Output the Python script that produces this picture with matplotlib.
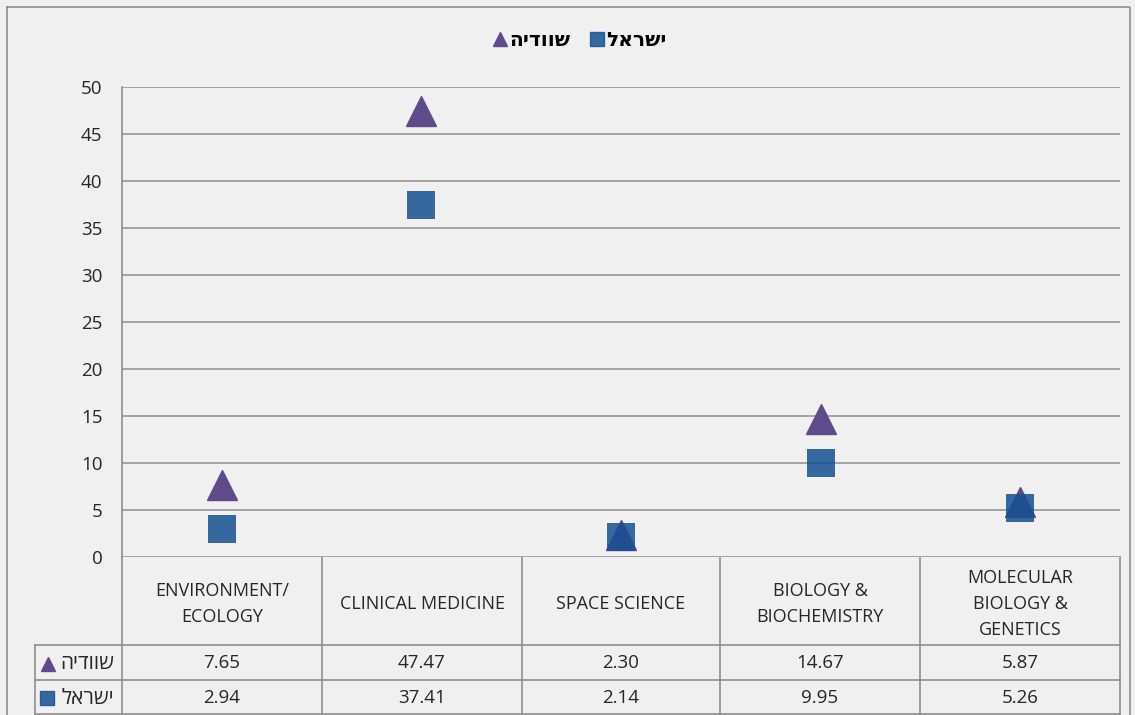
import matplotlib
matplotlib.use("Agg")
import matplotlib.pyplot as plt
from matplotlib.lines import Line2D

plt.rcParams['font.family'] = ['Open Sans', 'DejaVu Sans']

# data
categories = ['ENVIRONMENT/\nECOLOGY', 'CLINICAL MEDICINE', 'SPACE SCIENCE',
              'BIOLOGY &\nBIOCHEMISTRY', 'MOLECULAR\nBIOLOGY &\nGENETICS']
sweden = [7.65, 47.47, 2.30, 14.67, 5.87]
israel = [2.94, 37.41, 2.14, 9.95, 5.26]
sweden_name = 'שוודיה'
israel_name = 'ישראל'
yticks = [0, 5, 10, 15, 20, 25, 30, 35, 40, 45, 50]

# hebrew is drawn left-to-right by matplotlib, so reverse for display
def rtl(s):
    return s[::-1]

bg = '#f0f0f0'
c_tri = '#5f4a8b'
c_sq = '#145091'
line_c = '#8e8e8e'
txt_c = '#262626'

W, H = 1135, 715
fig = plt.figure(figsize=(W / 100, H / 100), dpi=100)
fig.patch.set_facecolor(bg)

# overlay axes in pixel coords for border and table
ov = fig.add_axes([0, 0, 1, 1], zorder=0)
ov.set_xlim(0, W)
ov.set_ylim(H, 0)
ov.axis('off')
ov.patch.set_alpha(0)

# main plot area
x0, x1, y_top, y_bot = 122, 1120, 87, 557
ax = fig.add_axes([x0 / W, (H - y_bot) / H, (x1 - x0) / W, (y_bot - y_top) / H], zorder=2)
ax.patch.set_alpha(0)
n = len(categories)
xs = [i + 0.5 for i in range(n)]
ax.set_xlim(0, n)
ax.set_ylim(0, 50)
ax.set_yticks(yticks)
ax.set_yticklabels([str(t) for t in yticks], fontsize=13.5, color=txt_c)
ax.tick_params(axis='y', length=0, pad=14)
ax.set_xticks([])
for s in ['top', 'right', 'bottom']:
    ax.spines[s].set_visible(False)
ax.spines['left'].set_color(line_c)
ax.spines['left'].set_linewidth(1.2)
for t in yticks:
    ax.axhline(t, color='#a3a3a3', lw=1.4, zorder=1)

ax.plot(xs, sweden, linestyle='none', marker='^', ms=22, color=c_tri, zorder=3, clip_on=False)
ax.plot(xs, israel, linestyle='none', marker='s', ms=20, color=c_sq, alpha=0.85,
        markeredgewidth=0, zorder=4, clip_on=False)

# outer border
ov.plot([7, 1130, 1130, 7, 7], [7, 7, 716, 716, 7], color=line_c, lw=1.2)

# table lines
col_edges = [122, 322, 522, 720, 920, 1120]
r_head, r1, r2, r3 = 557, 645, 680, 714
for xe in col_edges:
    ov.plot([xe, xe], [r_head, r3], color=line_c, lw=1.2)
ov.plot([35, 35], [r1, r3], color=line_c, lw=1.2)
for ye in [r1, r2, r3]:
    ov.plot([35, 1120], [ye, ye], color=line_c, lw=1.2)

for i, cat in enumerate(categories):
    cx = (col_edges[i] + col_edges[i + 1]) / 2
    ov.text(cx, (r_head + r1) / 2 + 3, cat, ha='center', va='center', fontsize=13,
            color=txt_c, linespacing=1.55)
    ov.text(cx, (r1 + r2) / 2 + 1, f'{sweden[i]:.2f}', ha='center', va='center',
            fontsize=13.5, color=txt_c)
    ov.text(cx, (r2 + r3) / 2 + 1, f'{israel[i]:.2f}', ha='center', va='center',
            fontsize=13.5, color=txt_c)

# row labels
ov.text(114, (r1 + r2) / 2 + 1, rtl(sweden_name), ha='right', va='center', fontsize=15, color=txt_c)
ov.plot([48], [(r1 + r2) / 2 + 1], marker='^', ms=10, color=c_tri, linestyle='none')
ov.text(114, (r2 + r3) / 2 + 1, rtl(israel_name), ha='right', va='center', fontsize=15, color=txt_c)
ov.plot([47], [(r2 + r3) / 2 + 1], marker='s', ms=10, color=c_sq, alpha=0.85, linestyle='none')

# legend
handles = [Line2D([], [], linestyle='none', marker='^', ms=10, color=c_tri),
           Line2D([], [], linestyle='none', marker='s', ms=10, color=c_sq, alpha=0.85)]
fig.legend(handles, [rtl(sweden_name), rtl(israel_name)], ncol=2, loc='center',
           bbox_to_anchor=(580 / W, 1 - 41 / H), frameon=False,
           handlelength=0.7, handletextpad=0.1, columnspacing=1.0,
           prop={'weight': 'bold', 'size': 14.5})

fig.savefig('out.png', dpi=100, facecolor=bg)
